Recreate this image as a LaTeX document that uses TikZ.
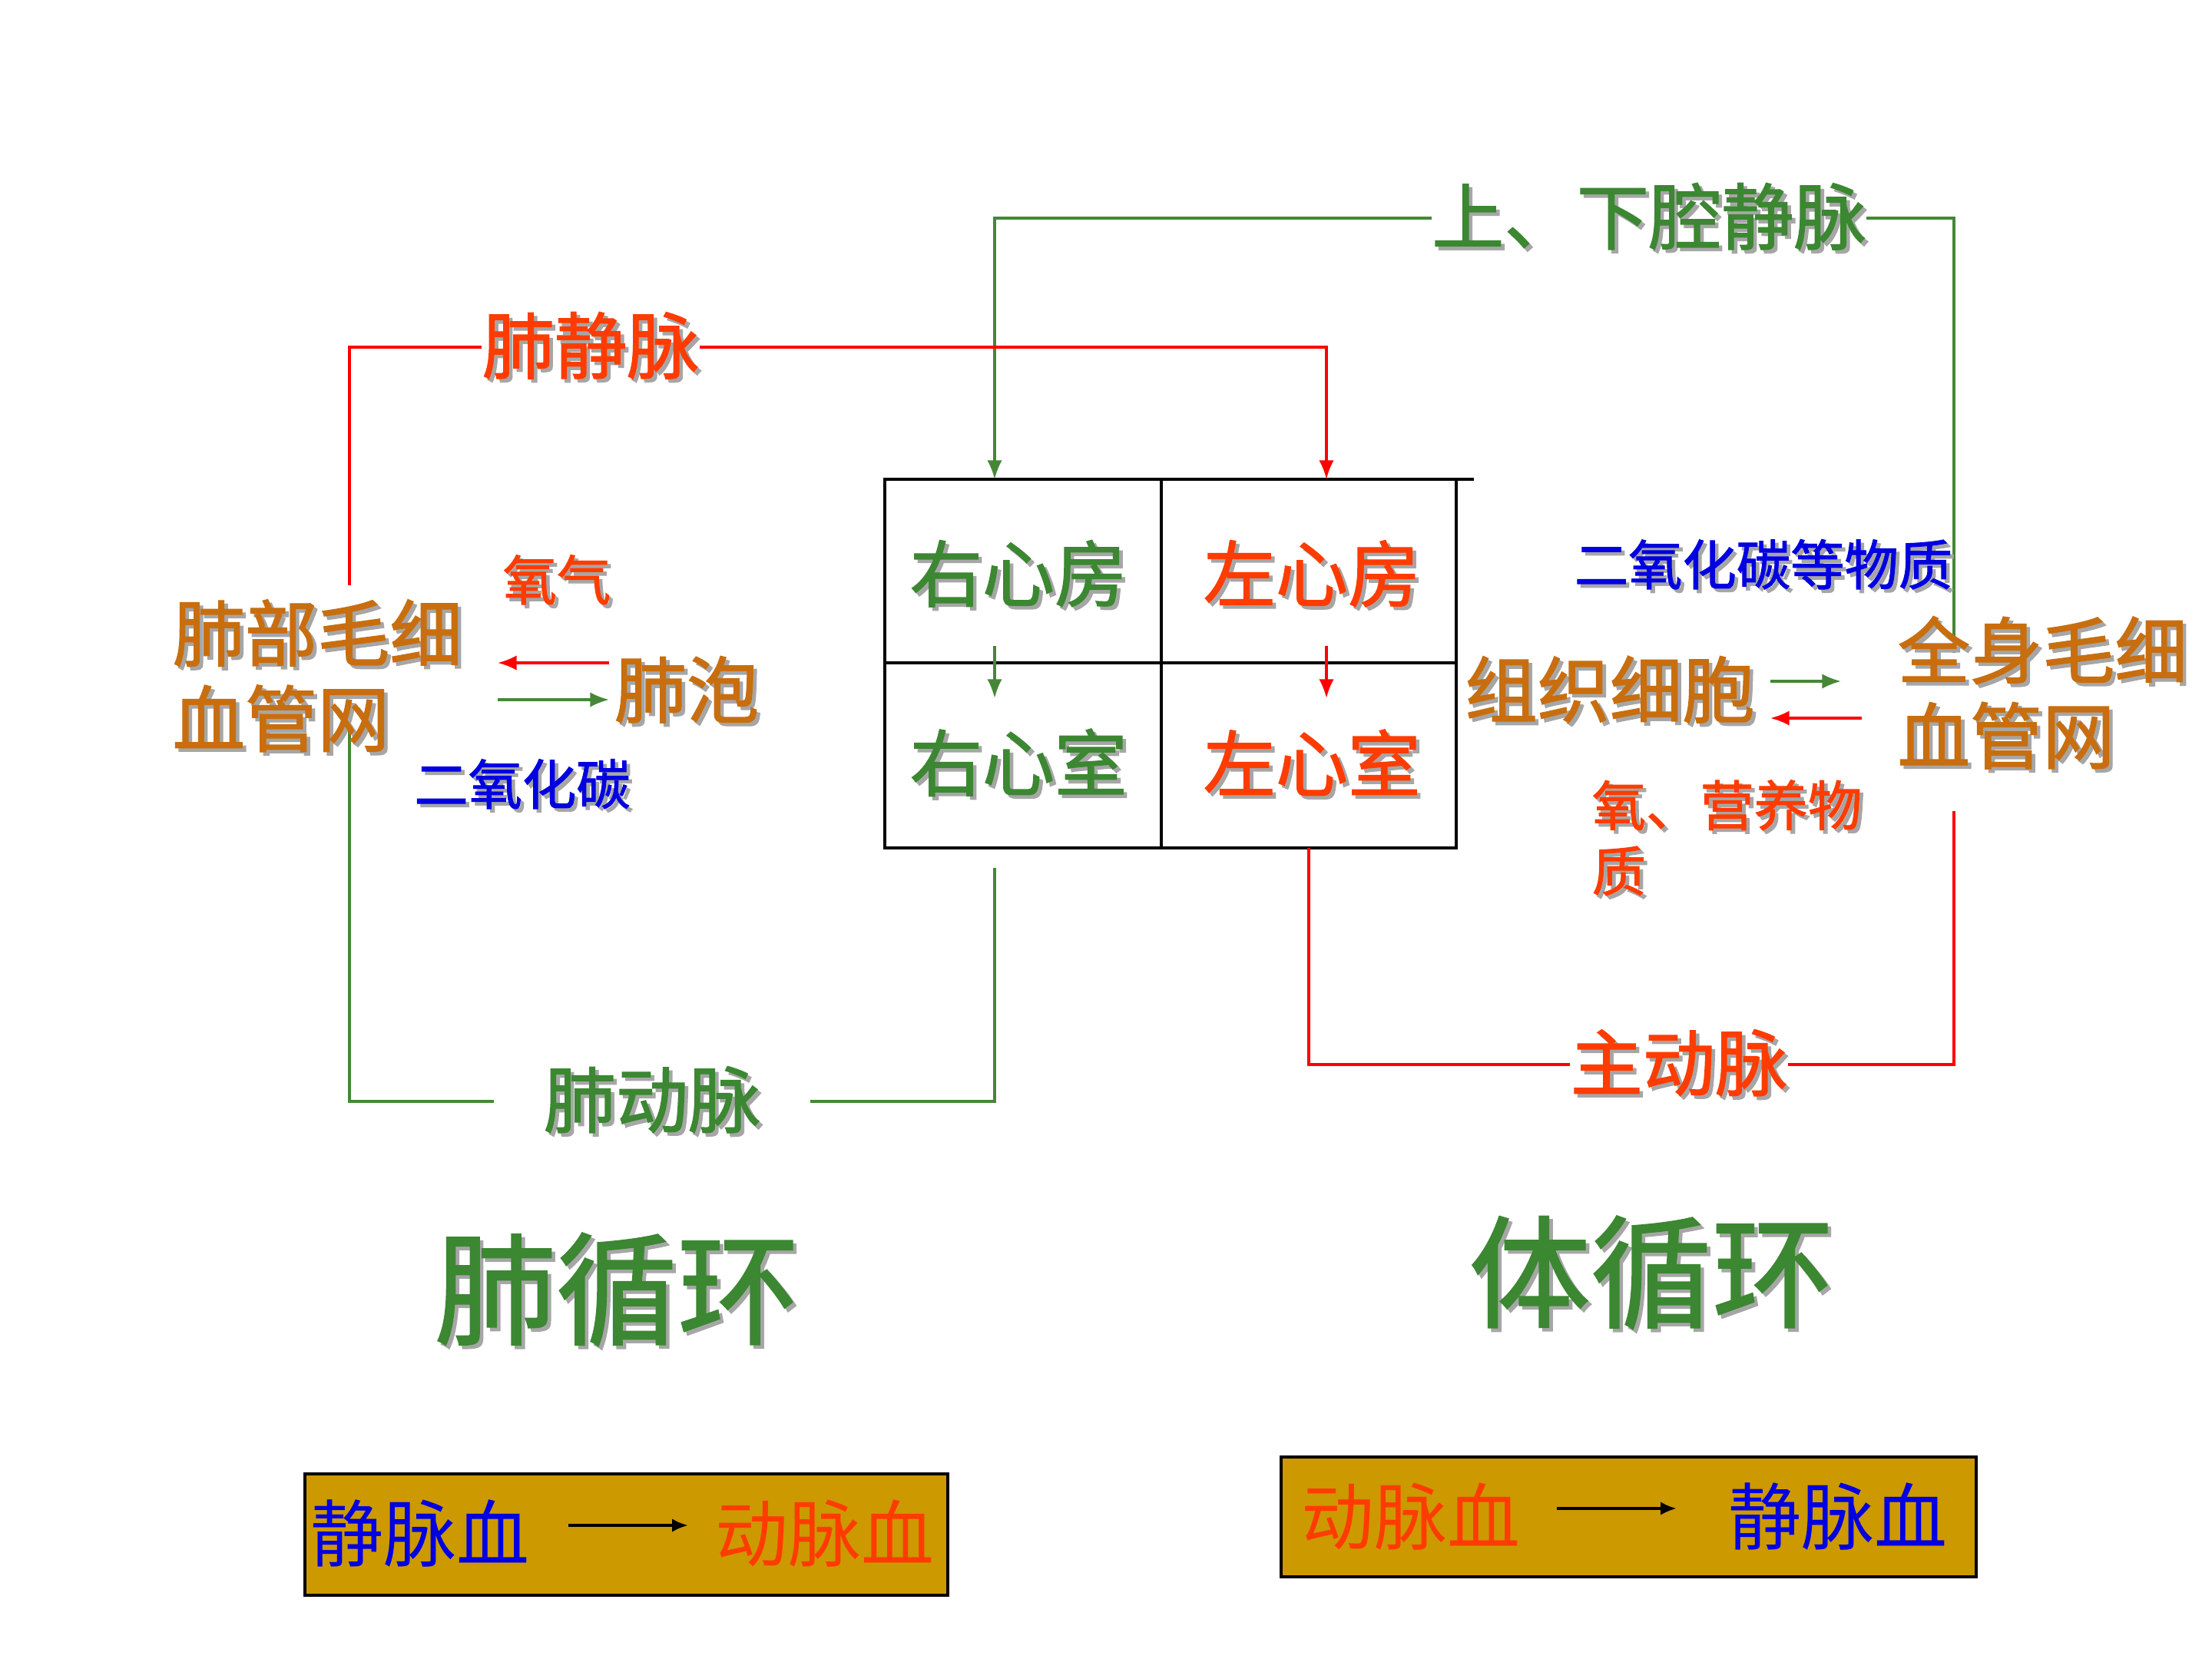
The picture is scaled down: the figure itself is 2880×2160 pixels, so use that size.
\documentclass[tikz,border=0pt]{standalone}
\usepackage{fontspec}
\setmainfont{Noto Sans CJK SC}
\newfontfamily\bfcjk[FakeBold=1.4]{Noto Sans CJK SC}
\usetikzlibrary{arrows.meta}
\definecolor{lgreen}{RGB}{70,135,55}
\definecolor{tgreen}{RGB}{60,135,50}
\definecolor{tred}{RGB}{255,60,0}
\definecolor{torange}{RGB}{200,110,15}
\definecolor{tblue}{RGB}{0,0,225}
\definecolor{boxfill}{RGB}{204,153,0}
\newcommand\shd[1]{\leavevmode\rlap{\kern1.3pt\raisebox{-1.3pt}{\textcolor{black!35}{#1}}}#1}
\begin{document}
\begin{tikzpicture}[x=0.01cm,y=-0.01cm,
  lbl/.style={inner sep=0pt, font=\bfcjk\fontsize{26.8}{31.6}\selectfont},
  sml/.style={inner sep=0pt, font=\bfcjk\fontsize{20}{24}\selectfont},
  ttl/.style={inner sep=0pt, font=\bfcjk\fontsize{45}{50}\selectfont},
  gline/.style={draw=lgreen, line width=0.9pt},
  rline/.style={draw=red, line width=0.9pt},
  tip/.style={-{Latex[length=7pt,width=5.5pt]}},
  bx/.style={draw=black, line width=1.1pt, fill=boxfill},
  bxt/.style={inner sep=0pt, font=\fontsize{27}{30}\selectfont}
]
\useasboundingbox[fill=white] (0,0) rectangle (2880,2160);

% heart box
\draw[line width=1pt] (1152,624) rectangle (1896,1104);
\draw[line width=1pt] (1896,624) -- (1919,624);
\draw[line width=1pt] (1512,624) -- (1512,1104);
\draw[line width=1pt] (1152,863) -- (1896,863);

\node[lbl, text=tgreen] (ra) at (1326,749) {\shd{右心房}};
\node[lbl, text=tred]   (la) at (1708,749) {\shd{左心房}};
\node[lbl, text=tgreen] (rv) at (1326,995) {\shd{右心室}};
\node[lbl, text=tred]   (lv) at (1708,995) {\shd{左心室}};

\coordinate (raA) at (1295,841); \coordinate (raB) at (1295,909);
\coordinate (laA) at (1727,841); \coordinate (laB) at (1727,909);
\draw[gline,tip] (raA) -- (raB);
\draw[rline,tip] (laA) -- (laB);

% vena cava
\node[lbl, text=tgreen] (vc) at (2147,284) {\shd{上、下腔静脉}};
\coordinate (vcEnd) at (2544,850);
\coordinate (raTop) at (1295,624);
\draw[gline] (vcEnd) |- (vc.east);
\draw[gline,tip] (vc.west) -| (raTop);

% pulmonary vein
\node[lbl, text=tred] (pv) at (769,452) {\shd{肺静脉}};
\coordinate (pcTop) at (455,762);
\coordinate (laTop) at (1727,624);
\draw[rline] (pcTop) |- (pv.west);
\draw[rline,tip] (pv.east) -| (laTop);

% pulmonary artery
\node[lbl, text=tgreen, inner xsep=0.64cm] (pa) at (849,1434) {\shd{肺动脉}};
\coordinate (rvBot) at (1295,1130);
\coordinate (pcBot) at (455,946);
\draw[gline] (rvBot) |- (pa.east);
\draw[gline] (pa.west) -| (pcBot);

% aorta
\node[lbl, text=tred] (ao) at (2186,1386) {\shd{主动脉}};
\coordinate (lvBot) at (1704,1104);
\coordinate (scBot) at (2544,1056);
\draw[rline] (lvBot) |- (ao.west);
\draw[rline] (ao.east) -| (scBot);

% left side
\node[lbl, text=torange, align=left, anchor=west] (pcap) at (224,882) {\shd{肺部毛细}\\\shd{血管网}};
\node[lbl, text=torange] (alv) at (894,900) {\shd{肺泡}};
\node[sml, text=tred] (o2) at (725,757) {\shd{氧气}};
\node[sml, text=tblue] (co2) at (680,1023) {\shd{二氧化碳}};
\coordinate (lgA) at (793,863); \coordinate (lgB) at (648,863);
\coordinate (lgC) at (648,911); \coordinate (lgD) at (793,911);
\draw[rline,tip] (lgA) -- (lgB);
\draw[gline,tip] (lgC) -- (lgD);

% right side
\node[sml, text=tblue] (co2b) at (2296,737) {\shd{二氧化碳等物质}};
\node[lbl, text=torange] (tis) at (2096,900) {\shd{组织细胞}};
\node[lbl, text=torange, align=left, anchor=west] (scap) at (2470,904) {\shd{全身毛细}\\\shd{血管网}};
\node[sml, text=tred, align=left, anchor=west] (nut) at (2072,1093) {\shd{氧、营养物}\\[0.3pt]\shd{质}};
\coordinate (rgA) at (2305,887); \coordinate (rgB) at (2397,887);
\coordinate (rgC) at (2424,935); \coordinate (rgD) at (2305,935);
\draw[gline,tip] (rgA) -- (rgB);
\draw[rline,tip] (rgC) -- (rgD);

% titles
\node[ttl, text=tgreen] (t1) at (803,1681) {\shd{肺循环}};
\node[ttl, text=tgreen] (t2) at (2150,1659) {\shd{体循环}};

% bottom boxes
\draw[bx] (397,1919) rectangle (1234,2077);
\node[bxt, text=tblue] (b1a) at (547,1996) {静脉血};
\node[bxt, text=tred] (b1b) at (1074,1996) {动脉血};
\draw[line width=1.2pt, -{Latex[length=6pt,width=5pt]}] (b1a.east) ++(50,-10) coordinate (b1s) -- ++(156,0) coordinate (b1e);

\draw[bx] (1668,1897) rectangle (2573,2053);
\node[bxt, text=tred] (b2a) at (1837,1974) {动脉血};
\node[bxt, text=tblue] (b2b) at (2393,1974) {静脉血};
\draw[line width=1.2pt, -{Latex[length=6pt,width=5pt]}] (b2a.east) ++(47,-10) coordinate (b2s) -- ++(156,0) coordinate (b2e);
\end{tikzpicture}
\end{document}
